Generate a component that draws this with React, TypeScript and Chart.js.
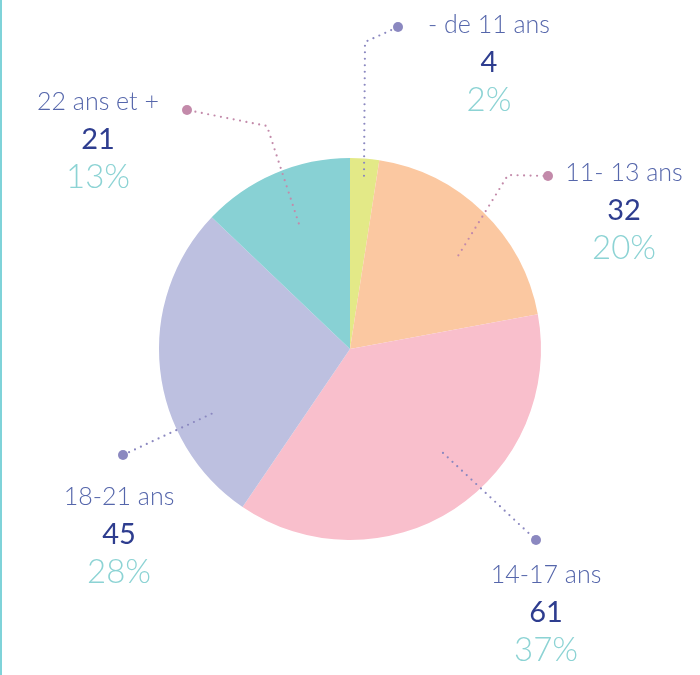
import React, { useEffect, useRef } from "react";
import { Chart, registerables } from "chart.js";

Chart.register(...registerables);

const categories = ["- de 11 ans", "11- 13 ans", "14-17 ans", "18-21 ans", "22 ans et +"];
const counts = [4, 32, 61, 45, 21];
const percentLabels = ["2%", "20%", "37%", "28%", "13%"];
const sliceColors = ["#e3e987", "#fbc8a1", "#f9bfcc", "#bdc0e0", "#88d1d4"];
const leaderColors = ["#8b88c0", "#c38aaa", "#8b88c0", "#8b88c0", "#c38aaa"];

// Leader / label layout, relative to the pie centre (pixels)
const labelLayout = [
  { angleOffset: 0.2, rFrac: 0.91, bends: [[15, -307]], dot: [48, -322], text: [139, -324] },
  { angleOffset: 5, rFrac: 0.75, bends: [[158, -174]], dot: [198, -173], text: [274, -176] },
  { angleOffset: -8.7, rFrac: 0.73, bends: [], dot: [186, 191], text: [196, 226] },
  { angleOffset: -19, rFrac: 0.8, bends: [], dot: [-227, 106], text: [-231, 148] },
  { angleOffset: 1, rFrac: 0.71, bends: [[-83, -223]], dot: [-163, -239], text: [-252, -247] },
];

const FONT = "Lato, 'Open Sans', sans-serif";

const leaderPlugin = {
  id: "leaders",
  afterDatasetsDraw(chart: any) {
    const ctx = chart.ctx;
    const meta = chart.getDatasetMeta(0);
    meta.data.forEach((arc: any, i: number) => {
      const p = arc.getProps(["x", "y", "startAngle", "endAngle", "outerRadius"], true);
      const cx = p.x, cy = p.y;
      const lay = labelLayout[i];
      const mid = (p.startAngle + p.endAngle) / 2 + (lay.angleOffset * Math.PI) / 180;
      const sx = cx + Math.cos(mid) * p.outerRadius * lay.rFrac;
      const sy = cy + Math.sin(mid) * p.outerRadius * lay.rFrac;
      const pts: number[][] = [[sx, sy]];
      lay.bends.forEach((b) => pts.push([cx + b[0], cy + b[1]]));
      const dx = cx + lay.dot[0], dy = cy + lay.dot[1];
      pts.push([dx, dy]);

      ctx.save();
      ctx.strokeStyle = leaderColors[i];
      ctx.lineWidth = 2.2;
      ctx.lineCap = "round";
      ctx.setLineDash([0, 6.5]);
      ctx.beginPath();
      ctx.moveTo(pts[0][0], pts[0][1]);
      for (let k = 1; k < pts.length; k++) ctx.lineTo(pts[k][0], pts[k][1]);
      ctx.stroke();
      ctx.setLineDash([]);
      ctx.fillStyle = leaderColors[i];
      ctx.beginPath();
      ctx.arc(dx, dy, 5, 0, Math.PI * 2);
      ctx.fill();

      const tx = cx + lay.text[0], ty = cy + lay.text[1];
      ctx.textAlign = "center";
      ctx.textBaseline = "middle";
      ctx.fillStyle = "#5566ab";
      ctx.font = `300 25px ${FONT}`;
      ctx.fillText(categories[i], tx, ty);
      ctx.fillStyle = "#2e3d8f";
      ctx.font = `400 29px ${FONT}`;
      ctx.fillText(String(counts[i]), tx, ty + 38);
      ctx.fillStyle = "#8cd3d4";
      ctx.font = `300 33px ${FONT}`;
      ctx.fillText(percentLabels[i], tx, ty + 75);
      ctx.restore();
    });
  },
};

export default function App() {
  const ref = useRef<HTMLCanvasElement | null>(null);
  useEffect(() => {
    if (!ref.current) return;
    const chart = new Chart(ref.current, {
      type: "pie",
      data: {
        labels: categories,
        datasets: [
          {
            data: counts,
            backgroundColor: sliceColors,
            borderColor: "#ffffff",
            borderWidth: 0,
          },
        ],
      },
      options: {
        responsive: false,
        animation: false,
        layout: { padding: { left: 159, right: 159, top: 158, bottom: 135 } },
        plugins: {
          legend: { display: false },
          tooltip: { enabled: false },
        },
      },
      plugins: [leaderPlugin],
    });
    return () => chart.destroy();
  }, []);
  return (
    <div
      style={{
        position: "absolute",
        left: 0,
        top: 0,
        width: 700,
        height: 675,
        background: "#ffffff",
      }}
    >
      <div
        style={{
          position: "absolute",
          left: 0,
          top: 0,
          width: 2,
          height: 675,
          background: "#7fd3d9",
        }}
      />
      <canvas ref={ref} width={700} height={675} style={{ display: "block" }} />
    </div>
  );
}
